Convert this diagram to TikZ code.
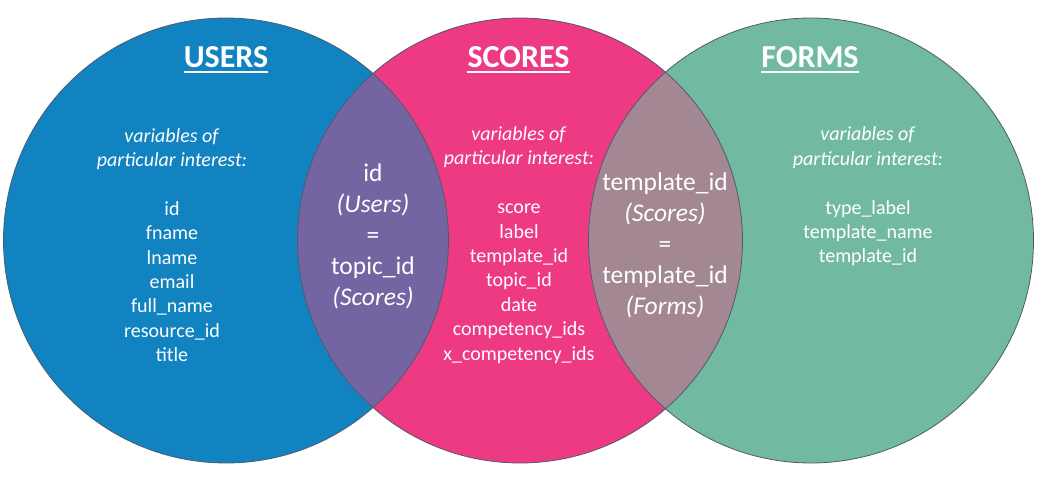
\documentclass[tikz,border=0pt]{standalone}
\usepackage{fontspec}
\setmainfont{Carlito}
\usepackage{tikz}
\usetikzlibrary{positioning}

\definecolor{usersblue}{RGB}{17,131,193}
\definecolor{scorespink}{RGB}{238,57,131}
\definecolor{formsteal}{RGB}{114,185,162}
\definecolor{lensviolet}{RGB}{117,100,162}
\definecolor{lensmauve}{RGB}{163,136,148}
\definecolor{setline}{RGB}{80,90,110}

\begin{document}
\begin{tikzpicture}[x=1pt,y=-1pt,
   set/.style={draw=setline, line width=0.8pt},
   settitle/.style={text=white, font=\fontsize{32}{38}\selectfont\bfseries, inner sep=0pt, anchor=base},
   vars/.style={text=white, align=center, font=\fontsize{20}{24.4}\selectfont, inner sep=0pt},
   joinvars/.style={text=white, align=center, font=\fontsize{25.5}{31}\selectfont, inner sep=0pt}]
\useasboundingbox (0,0) rectangle (1037,483);

% set centres
\coordinate (users) at (226,240.5);
\coordinate (scores) at (520,240.5);
\coordinate (forms) at (811,240.5);

% the three sets
\fill[usersblue] (users) circle [radius=222.5pt];
\fill[scorespink] (scores) circle [radius=222.5pt];
\fill[formsteal] (forms) circle [radius=222.5pt];

% overlaps
\begin{scope}
   \clip (users) circle [radius=222.5pt];
   \fill[lensviolet] (scores) circle [radius=222.5pt];
\end{scope}
\begin{scope}
   \clip (scores) circle [radius=222.5pt];
   \fill[lensmauve] (forms) circle [radius=222.5pt];
\end{scope}

\draw[set] (users) circle [radius=222.5pt];
\draw[set] (scores) circle [radius=222.5pt];
\draw[set] (forms) circle [radius=222.5pt];

% titles
\node[settitle] (userstitle) at (226,67) {USERS};
\node[settitle] (scorestitle) at (518.5,67) {SCORES};
\node[settitle] (formstitle) at (810,67) {FORMS};
\foreach \t in {userstitle,scorestitle,formstitle}
   \draw[white, line width=2pt] ([yshift=-5pt]\t.base west) -- ([yshift=-5pt]\t.base east);

% variables
\node[vars] (usersvars) at (172,245) {\textit{variables of}\\\textit{particular interest:}\\[24.4pt]
   id\\fname\\lname\\email\\full\_name\\resource\_id\\title};
\node[vars] (scoresvars) at (519,245) {\textit{variables of}\\\textit{particular interest:}\\[24.4pt]
   score\\label\\template\_id\\topic\_id\\date\\competency\_ids\\x\_competency\_ids};
\node[vars] (formsvars) at (868,196.5) {\textit{variables of}\\\textit{particular interest:}\\[24.4pt]
   type\_label\\template\_name\\template\_id};

% join keys
\node[joinvars] (userjoin) at (373,236) {id\\\textit{(Users)}\\=\\topic\_id\\\textit{(Scores)}};
\node[joinvars] (formjoin) at (665,245) {template\_id\\\textit{(Scores)}\\=\\template\_id\\\textit{(Forms)}};
\end{tikzpicture}
\end{document}
